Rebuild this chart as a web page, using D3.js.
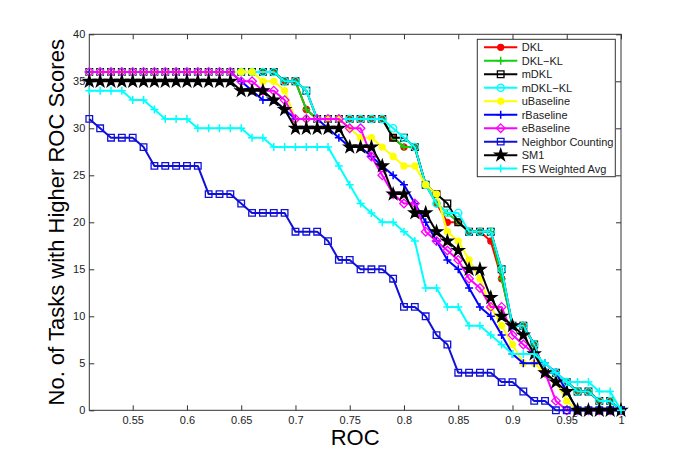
<!DOCTYPE html>
<html>
<head>
<meta charset="utf-8">
<title>No. of Tasks with Higher ROC Scores</title>
<script src="https://cdn.jsdelivr.net/npm/d3@7"></script>
<style>
body{
  margin:0;
  background:#fff}

svg{
  display:block}

text{
  font-family:"Liberation Sans", Arial, sans-serif}

.axis text{
  font-size:11px;
  fill:#222}

.axis line{
  stroke:#333}

.series path.line{
  fill:none;
  stroke-width:2;
  stroke-linejoin:round}
</style>
</head>
<body>
<script>
// ROC thresholds on the x axis
const roc = [0.51, 0.52, 0.53, 0.54, 0.55, 0.56, 0.57, 0.58, 0.59, 0.60,
             0.61, 0.62, 0.63, 0.64, 0.65, 0.66, 0.67, 0.68, 0.69, 0.70,
             0.71, 0.72, 0.73, 0.74, 0.75, 0.76, 0.77, 0.78, 0.79, 0.80,
             0.81, 0.82, 0.83, 0.84, 0.85, 0.86, 0.87, 0.88, 0.89, 0.90,
             0.91, 0.92, 0.93, 0.94, 0.95, 0.96, 0.97, 0.98, 0.99, 1.00]

// No. of tasks with a higher ROC score, one array per method
const dkl = [36,36,36,36,36,36,36,36,36,36, 36,36,36,36,36,36,36,36,35,35,
             32,31,31,31,31,31,31,31,29,28, 28,24,22,20,20,19,19,18,14,9,
             9,7,4,4,3,2,2,1,1,0]
const dklKl = [36,36,36,36,36,36,36,36,36,36, 36,36,36,36,36,36,36,36,35,35,
               32,31,31,31,31,31,31,31,29,28, 28,24,22,21,20,19,19,19,14,9,
               9,7,4,4,3,2,2,1,1,0]
const mdkl = [36,36,36,36,36,36,36,36,36,36, 36,36,36,36,36,36,36,36,35,35,
              34,31,31,31,31,31,31,31,29,29, 28,24,23,22,20,19,19,19,15,9,
              9,7,4,4,3,2,2,1,1,0]
const mdklKl = [36,36,36,36,36,36,36,36,36,36, 36,36,36,36,36,36,36,36,35,35,
                34,31,31,31,31,31,31,31,30,29, 28,24,22,21,21,19,19,19,15,9,
                9,7,4,4,3,2,2,1,1,0]
const uBaseline = [36,36,36,36,36,36,36,36,36,36, 36,36,36,36,36,36,35,35,34,31,
                   31,31,31,31,30,29,29,28,27,26, 26,24,23,19,18,16,14,11,9,7,
                   5,5,4,3,1,0,0,0,0,0]
const rBaseline = [36,36,36,36,36,36,36,36,36,36, 36,36,36,36,35,34,33,33,32,31,
                   31,31,30,29,28,28,27,26,25,24, 22,20,18,16,15,13,11,10,8,6,
                   5,5,5,4,2,0,0,0,0,0]
const eBaseline = [36,36,36,36,36,36,36,36,36,36, 36,36,36,36,35,35,34,34,33,31,
                   31,31,31,31,30,30,27,25,23,22, 22,19,18,17,16,14,13,11,11,8,
                   7,6,4,1,0,0,0,0,0,0]
const neighborCounting = [31,30,29,29,29,28,26,26,26,26, 26,23,23,23,22,21,21,21,21,19,
                          19,19,18,16,16,15,15,15,14,11, 11,10,8,7,4,4,4,4,3,3,
                          2,1,1,0,0,0,0,0,0,0]
const sm1 = [35,35,35,35,35,35,35,35,35,35, 35,35,35,35,34,34,34,33,32,30,
             30,30,30,30,28,28,28,26,23,23, 21,21,19,18,17,15,15,12,10,9,
             8,6,4,3,2,0,0,0,0,0]
const fsWeightedAvg = [34,34,34,34,33,33,32,31,31,31, 30,30,30,30,30,29,29,28,28,28,
                       28,28,28,26,24,22,21,20,20,19, 18,13,13,11,11,9,9,8,7,6,
                       6,6,5,4,3,3,3,2,2,0]

const seriesNames = ['DKL', 'DKL\u2212KL', 'mDKL', 'mDKL\u2212KL', 'uBaseline',
                     'rBaseline', 'eBaseline', 'Neighbor Counting', 'SM1', 'FS Weighted Avg']
const seriesValues = [dkl, dklKl, mdkl, mdklKl, uBaseline,
                      rBaseline, eBaseline, neighborCounting, sm1, fsWeightedAvg]
const seriesColors = ['#ff0000', '#10d010', '#000000', '#00ffff', '#ffff00',
                      '#0000ff', '#ff00ff', '#1010d8', '#000000', '#00ffff']
const seriesMarkers = ['dot', 'plus', 'square', 'circle', 'dot',
                       'plus', 'diamond', 'square', 'star', 'plus']

const xTicks = [0.55, 0.6, 0.65, 0.7, 0.75, 0.8, 0.85, 0.9, 0.95, 1]
const xTickLabels = ['0.55', '0.6', '0.65', '0.7', '0.75', '0.8', '0.85', '0.9', '0.95', '1']
const yTicks = [0, 5, 10, 15, 20, 25, 30, 35, 40]

// Plot box in page pixels
const W = 685, H = 461
const box = { left: 89.3, right: 621, top: 34.3, bottom: 410.3 }

const svg = d3.select('body')
  .append('svg')
    .attr('width', W)
    .attr('height', H)

const x = d3.scaleLinear().domain([0.51, 1]).range([box.left, box.right])
const y = d3.scaleLinear().domain([0, 40]).range([box.bottom, box.top])

// Axes, ticks pointing inwards like matlab
svg.append('g')
    .attr('class', 'axis')
    .attr('transform', `translate(0, ${box.bottom})`)
    .call(d3.axisBottom(x).tickValues(xTicks).tickFormat((d, i) => xTickLabels[i])
      .tickSizeInner(-5).tickSizeOuter(0).tickPadding(6))
svg.append('g')
    .attr('class', 'axis')
    .attr('transform', `translate(0, ${box.top})`)
    .call(d3.axisTop(x).tickValues(xTicks).tickFormat('')
      .tickSizeInner(-5).tickSizeOuter(0))
svg.append('g')
    .attr('class', 'axis')
    .attr('transform', `translate(${box.left}, 0)`)
    .call(d3.axisLeft(y).tickValues(yTicks)
      .tickSizeInner(-5).tickSizeOuter(0).tickPadding(4))
svg.append('g')
    .attr('class', 'axis')
    .attr('transform', `translate(${box.right}, 0)`)
    .call(d3.axisRight(y).tickValues(yTicks).tickFormat('')
      .tickSizeInner(-5).tickSizeOuter(0))
svg.selectAll('.axis .domain').remove()

svg.append('rect')
    .attr('x', box.left)
    .attr('y', box.top)
    .attr('width', box.right - box.left)
    .attr('height', box.bottom - box.top)
    .style('fill', 'none')
    .style('stroke', '#333')
    .style('stroke-width', 1)

// Axis titles
svg.append('text')
    .attr('x', (box.left + box.right) / 2)
    .attr('y', 445)
    .style('text-anchor', 'middle')
    .style('font-size', '22px')
    .text('ROC')

svg.append('text')
    .attr('transform', `translate(64, ${(box.top + box.bottom) / 2}) rotate(-90)`)
    .style('text-anchor', 'middle')
    .style('font-size', '22px')
    .text('No. of Tasks with Higher ROC Scores')

// Marker shapes
const markerPath = type => {
  if (type === 'plus') return 'M-4,0H4M0,-4V4'
  if (type === 'square') return 'M-3.3,-3.3H3.3V3.3H-3.3Z'
  if (type === 'diamond') return 'M0,-4.3L4.3,0L0,4.3L-4.3,0Z'
  if (type === 'circle') return d3.symbol(d3.symbolCircle, Math.PI * 3.6 * 3.6)()
  if (type === 'star') return d3.symbol(d3.symbolStar, 42)()
  return d3.symbol(d3.symbolCircle, Math.PI * 3 * 3)()
}
const filled = type => type === 'dot' || type === 'star'

const drawMarker = (g, type, color) => {
  g.append('path')
      .attr('d', markerPath(type))
      .style('fill', filled(type) ? color : 'none')
      .style('stroke', color)
      .style('stroke-width', type === 'plus' ? 1.5 : 1.3)
}

const line = d3.line()
    .x((d, i) => x(roc[i]))
    .y(d => y(d))

// Draw series in legend order
seriesValues.forEach((values, s) => {
  const g = svg.append('g').attr('class', 'series')
  g.append('path')
      .attr('class', 'line')
      .attr('d', line(values))
      .style('stroke', seriesColors[s])
  values.forEach((v, i) => {
    const m = g.append('g').attr('transform', `translate(${x(roc[i])}, ${y(v)})`)
    drawMarker(m, seriesMarkers[s], seriesColors[s])
  })
})

// Legend
const legend = svg.append('g')
legend.append('rect')
    .attr('x', 477.3)
    .attr('y', 39.3)
    .attr('width', 138)
    .attr('height', 137.4)
    .style('fill', '#fff')
    .style('stroke', '#333')
    .style('stroke-width', 1)

seriesNames.forEach((name, s) => {
  const ly = 47.3 + s * 13.48
  const row = legend.append('g').attr('transform', `translate(0, ${ly})`)
  row.append('line')
      .attr('x1', 484)
      .attr('x2', 517.3)
      .style('stroke', seriesColors[s])
      .style('stroke-width', 2)
  drawMarker(row.append('g').attr('transform', 'translate(500.7, 0)'), seriesMarkers[s], seriesColors[s])
  row.append('text')
      .attr('x', 521.7)
      .attr('dy', '0.36em')
      .style('font-size', '11px')
      .style('fill', '#222')
      .text(name)
})
</script>
</body>
</html>
